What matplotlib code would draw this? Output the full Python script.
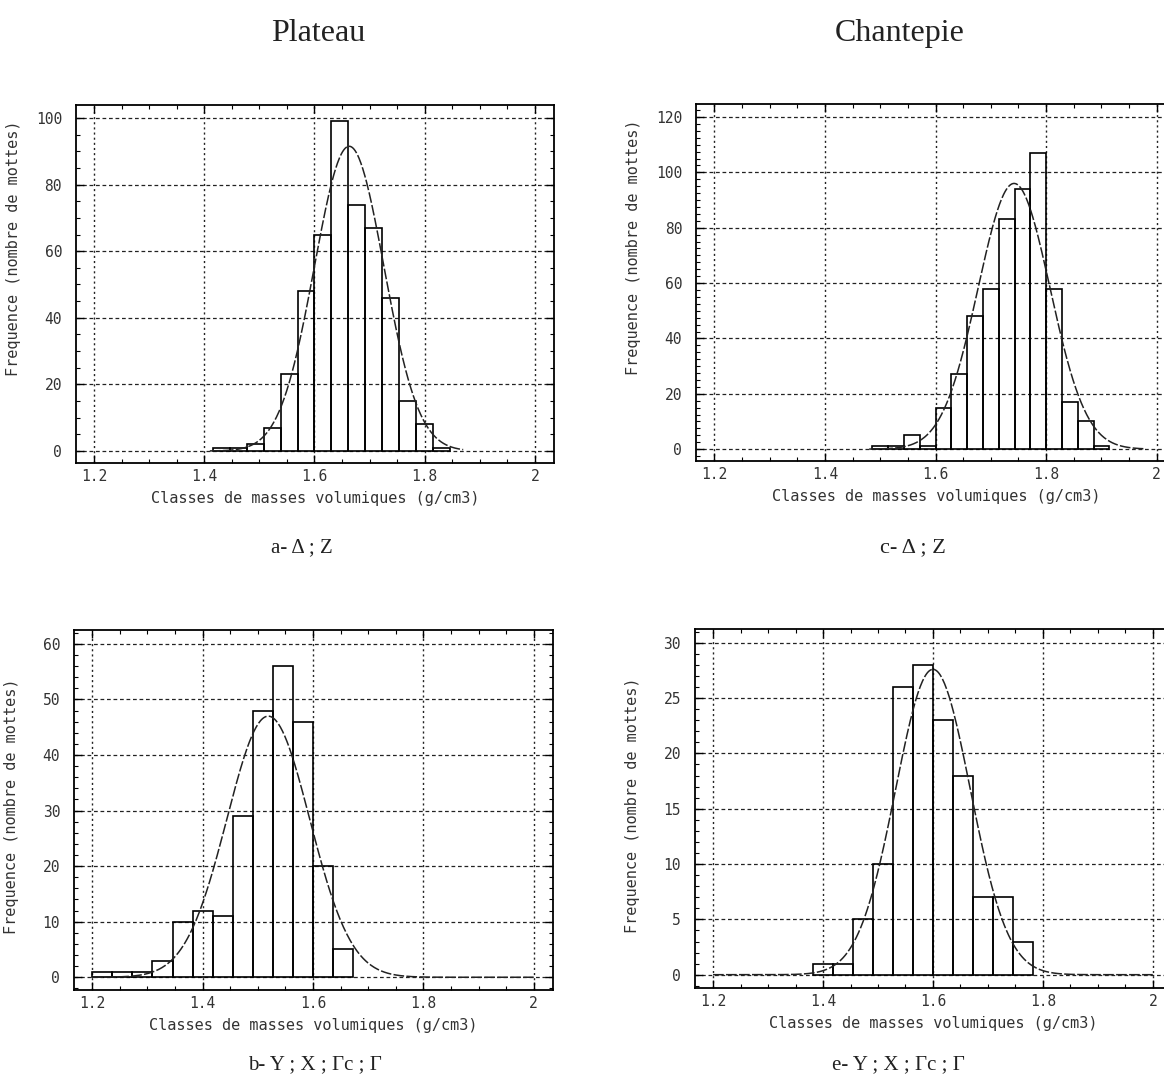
import numpy as np
import matplotlib
matplotlib.use("Agg")
import matplotlib.pyplot as plt
from matplotlib.ticker import MultipleLocator, FixedLocator

# --- donnees ---
# a- Plateau, Delta ; Z  (pas de classe 0.8/26, classes 7..20)
larg_a = 0.8 / 26
bords_a = [1.2 + k * larg_a for k in range(7, 21)]
freq_a = [1, 1, 2, 7, 23, 48, 65, 99, 74, 67, 46, 15, 8, 1]
gauss_a = dict(mu=1.663, sd=0.063, pic=91.5, x0=1.41, x1=1.87)

# b- Plateau, Y ; X ; Gc ; G  (pas 0.8/22, classes 0..12)
larg_b = 0.8 / 22
bords_b = [1.2 + k * larg_b for k in range(0, 13)]
freq_b = [1, 1, 1, 3, 10, 12, 11, 29, 48, 56, 46, 20, 5]
gauss_b = dict(mu=1.519, sd=0.075, pic=47.0, x0=1.2, x1=2.0)

# c- Chantepie, Delta ; Z  (pas 0.8/28, classes 10..24)
larg_c = 0.8 / 28
bords_c = [1.2 + k * larg_c for k in range(10, 25)]
freq_c = [1, 1, 5, 1, 15, 27, 48, 58, 83, 94, 107, 58, 17, 10, 1]
gauss_c = dict(mu=1.742, sd=0.065, pic=96.0, x0=1.48, x1=1.98)

# e- Chantepie, Y ; X ; Gc ; G  (pas 0.8/22, classes 5..15)
larg_e = 0.8 / 22
bords_e = [1.2 + k * larg_e for k in range(5, 16)]
freq_e = [1, 1, 5, 10, 26, 28, 23, 18, 7, 7, 3]
gauss_e = dict(mu=1.600, sd=0.068, pic=27.6, x0=1.2, x1=2.0)

xticks = [1.2, 1.4, 1.6, 1.8, 2.0]
xticklabels = ["1.2", "1.4", "1.6", "1.8", "2"]

mono = "DejaVu Sans Mono"
serif = "Liberation Serif"

fig = plt.figure(figsize=(11.64, 10.82), dpi=100)
fig.patch.set_facecolor("white")


def panneau(pos, bords, larg, freq, g, ylim, ymaj, ymin, ylab_y):
    ax = fig.add_axes(pos)
    ax.bar(bords, freq, width=larg, align="edge", fill=False,
           edgecolor="black", linewidth=1.2, zorder=3)
    xs = np.linspace(g["x0"], g["x1"], 400)
    ys = g["pic"] * np.exp(-0.5 * ((xs - g["mu"]) / g["sd"]) ** 2)
    ax.plot(xs, ys, color="#222222", linewidth=1.1,
            linestyle=(0, (7, 1.5)), zorder=4)
    ax.set_xlim(1.167, 2.035)
    ax.set_ylim(*ylim)
    ax.xaxis.set_major_locator(FixedLocator(xticks))
    ax.set_xticklabels(xticklabels)
    ax.xaxis.set_minor_locator(MultipleLocator(0.05))
    ax.yaxis.set_major_locator(MultipleLocator(ymaj))
    ax.yaxis.set_minor_locator(MultipleLocator(ymin))
    # quadrillage : pointille vertical, tirets horizontaux
    ax.xaxis.grid(True, which="major", color="#222222",
                  linestyle=(0, (1.5, 2.2)), linewidth=1.0, zorder=1)
    ax.yaxis.grid(True, which="major", color="#222222",
                  linestyle=(0, (3, 2.2)), linewidth=0.9, zorder=1)
    ax.tick_params(which="both", direction="in", top=True, right=True,
                   colors="black", labelcolor="#333333")
    ax.tick_params(which="major", length=6, width=1)
    ax.tick_params(which="minor", length=3, width=0.8)
    ax.tick_params(axis="x", pad=4)
    ax.tick_params(axis="y", pad=10)
    for lab in ax.get_xticklabels() + ax.get_yticklabels():
        lab.set_family(mono)
        lab.set_fontsize(10.5)
    for s in ax.spines.values():
        s.set_linewidth(1.3)
    ax.set_xlabel("Classes de masses volumiques (g/cm3)", family=mono,
                  fontsize=11, color="#333333")
    ax.xaxis.set_label_coords(0.5, -0.078)
    ax.set_ylabel("Frequence (nombre de mottes)", family=mono,
                  fontsize=11, color="#333333")
    ax.yaxis.set_label_coords(-0.115, ylab_y)
    return ax


panneau([0.0653, 0.5721, 0.4107, 0.3309], bords_a, larg_a, freq_a, gauss_a,
        (-3.6, 103.9), 20, 5, 0.60)
panneau([0.0636, 0.0850, 0.4115, 0.3327], bords_b, larg_b, freq_b, gauss_b,
        (-2.3, 62.5), 10, 2, 0.51)
panneau([0.5980, 0.5739, 0.4124, 0.3300], bords_c, larg_c, freq_c, gauss_c,
        (-4.3, 124.7), 20, 2.5, 0.60)
panneau([0.5970, 0.0869, 0.4100, 0.3318], bords_e, larg_e, freq_e, gauss_e,
        (-1.2, 31.25), 5, 1, 0.51)

fig.text(0.273, 0.9695, "Plateau", family=serif, fontsize=23,
         ha="center", va="center", color="#222222")
fig.text(0.773, 0.9695, "Chantepie", family=serif, fontsize=23,
         ha="center", va="center", color="#222222")
fig.text(0.2595, 0.4935, "a- Δ ; Z", family=serif, fontsize=15,
         ha="center", va="center", color="#222222")
fig.text(0.7844, 0.4935, "c- Δ ; Z", family=serif, fontsize=16,
         ha="center", va="center", color="#222222")
fig.text(0.2706, 0.0157, "b- Y ; X ; Γc ; Γ", family=serif, fontsize=15,
         ha="center", va="center", color="#222222")
fig.text(0.7715, 0.0157, "e- Y ; X ; Γc ; Γ", family=serif, fontsize=15,
         ha="center", va="center", color="#222222")

fig.savefig("out.png", dpi=100)
